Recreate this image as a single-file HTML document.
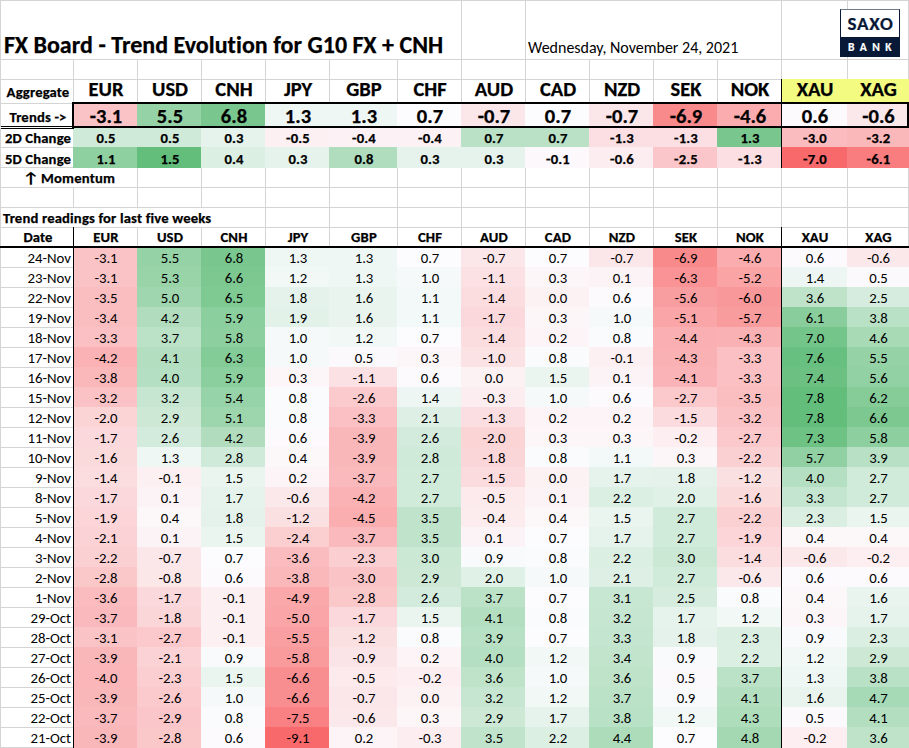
<!DOCTYPE html>
<html lang="en"><head><meta charset="utf-8"><title>FX Board - Trend Evolution for G10 FX + CNH</title>
<style>
html,body{margin:0;padding:0;background:#fff;}
body{width:909px;height:748px;overflow:hidden;position:relative;font-family:Carlito,"Liberation Sans",sans-serif;font-size-adjust:0.4775;color:#000;font-variant-ligatures:none;font-kerning:normal;}
#sheet{position:absolute;left:0;top:0;width:909px;height:748px;overflow:hidden;background:#fff;}
#sheet div{position:absolute;box-sizing:border-box;white-space:nowrap;}
.h{height:1px;background:#D4D4D4;left:0;width:909px;}
.v{width:1px;background:#D4D4D4;}
.c{text-align:center;font-size:14.8px;}
.l{letter-spacing:-0.1px;}
.c.b{font-size:14.67px;letter-spacing:0.15px;}
.b{font-weight:bold;font-size-adjust:0.4849;-webkit-text-stroke:0.25px #000;}
.d{text-align:right;font-size:14.8px;}
.k{background:#000;}

</style></head><body><div id="sheet">
<div class="h" style="top:0px"></div>
<div class="h" style="top:59px"></div>
<div class="h" style="top:79px"></div>
<div class="h" style="top:103px"></div>
<div class="h" style="top:127px"></div>
<div class="h" style="top:147px"></div>
<div class="h" style="top:167px"></div>
<div class="h" style="top:187px"></div>
<div class="h" style="top:207px"></div>
<div class="h" style="top:227px"></div>
<div class="h" style="top:247px"></div>
<div class="h" style="top:267px"></div>
<div class="h" style="top:287px"></div>
<div class="h" style="top:307px"></div>
<div class="h" style="top:327px"></div>
<div class="h" style="top:347px"></div>
<div class="h" style="top:367px"></div>
<div class="h" style="top:387px"></div>
<div class="h" style="top:407px"></div>
<div class="h" style="top:427px"></div>
<div class="h" style="top:447px"></div>
<div class="h" style="top:467px"></div>
<div class="h" style="top:487px"></div>
<div class="h" style="top:507px"></div>
<div class="h" style="top:527px"></div>
<div class="h" style="top:547px"></div>
<div class="h" style="top:567px"></div>
<div class="h" style="top:587px"></div>
<div class="h" style="top:607px"></div>
<div class="h" style="top:627px"></div>
<div class="h" style="top:647px"></div>
<div class="h" style="top:667px"></div>
<div class="h" style="top:687px"></div>
<div class="h" style="top:707px"></div>
<div class="h" style="top:727px"></div>
<div class="h" style="top:747px"></div>
<div class="v" style="left:0;top:0;height:748px"></div>
<div class="v" style="left:73px;top:0;height:748px"></div>
<div class="v" style="left:137px;top:0;height:748px"></div>
<div class="v" style="left:201px;top:0;height:748px"></div>
<div class="v" style="left:265px;top:0;height:748px"></div>
<div class="v" style="left:329px;top:0;height:748px"></div>
<div class="v" style="left:397px;top:0;height:748px"></div>
<div class="v" style="left:461px;top:0;height:748px"></div>
<div class="v" style="left:525px;top:0;height:748px"></div>
<div class="v" style="left:589px;top:0;height:748px"></div>
<div class="v" style="left:653px;top:0;height:748px"></div>
<div class="v" style="left:717px;top:0;height:748px"></div>
<div class="v" style="left:781px;top:0;height:748px"></div>
<div class="v" style="left:847px;top:0;height:748px"></div>
<div class="v" style="left:908px;top:0;height:748px"></div>
<div style="left:1px;top:1px;width:460px;height:58px;background:#fff"></div>
<div style="left:526px;top:1px;width:255px;height:58px;background:#fff"></div>
<div style="left:1px;top:168px;width:136px;height:19px;background:#fff"></div>
<div style="left:1px;top:208px;width:264px;height:19px;background:#fff"></div>
<div style="left:781px;top:79px;width:67px;height:23px;background:#F3FB80"></div>
<div style="left:847px;top:79px;width:62px;height:23px;background:#F3FB80"></div>
<div style="left:73px;top:103px;width:65px;height:25px;background:#FAC3C6"></div>
<div style="left:137px;top:103px;width:65px;height:25px;background:#95D2A6"></div>
<div style="left:201px;top:103px;width:65px;height:25px;background:#79C78E"></div>
<div style="left:265px;top:103px;width:65px;height:25px;background:#EFF7F4"></div>
<div style="left:329px;top:103px;width:69px;height:25px;background:#EFF7F4"></div>
<div style="left:397px;top:103px;width:65px;height:25px;background:#FCFCFF"></div>
<div style="left:461px;top:103px;width:65px;height:25px;background:#FBE7EA"></div>
<div style="left:525px;top:103px;width:65px;height:25px;background:#FCFCFF"></div>
<div style="left:589px;top:103px;width:65px;height:25px;background:#FBE7EA"></div>
<div style="left:653px;top:103px;width:65px;height:25px;background:#F98A8C"></div>
<div style="left:717px;top:103px;width:65px;height:25px;background:#FAACAF"></div>
<div style="left:781px;top:103px;width:67px;height:25px;background:#FCFAFD"></div>
<div style="left:847px;top:103px;width:62px;height:25px;background:#FBE8EB"></div>
<div style="left:73px;top:127px;width:65px;height:21px;background:#D0EAD9"></div>
<div style="left:137px;top:127px;width:65px;height:21px;background:#D0EAD9"></div>
<div style="left:201px;top:127px;width:65px;height:21px;background:#E6F3EC"></div>
<div style="left:265px;top:127px;width:65px;height:21px;background:#FCF0F2"></div>
<div style="left:329px;top:127px;width:69px;height:21px;background:#FCF2F5"></div>
<div style="left:397px;top:127px;width:65px;height:21px;background:#FCF2F5"></div>
<div style="left:461px;top:127px;width:65px;height:21px;background:#BAE1C6"></div>
<div style="left:525px;top:127px;width:65px;height:21px;background:#BAE1C6"></div>
<div style="left:589px;top:127px;width:65px;height:21px;background:#FBDFE2"></div>
<div style="left:653px;top:127px;width:65px;height:21px;background:#FBDFE2"></div>
<div style="left:717px;top:127px;width:65px;height:21px;background:#79C78E"></div>
<div style="left:781px;top:127px;width:67px;height:21px;background:#FABCBE"></div>
<div style="left:847px;top:127px;width:62px;height:21px;background:#FAB8BA"></div>
<div style="left:73px;top:147px;width:65px;height:21px;background:#8FD0A1"></div>
<div style="left:137px;top:147px;width:65px;height:21px;background:#63BE7B"></div>
<div style="left:201px;top:147px;width:65px;height:21px;background:#DBEFE3"></div>
<div style="left:265px;top:147px;width:65px;height:21px;background:#E6F3EC"></div>
<div style="left:329px;top:147px;width:69px;height:21px;background:#B0DDBD"></div>
<div style="left:397px;top:147px;width:65px;height:21px;background:#E6F3EC"></div>
<div style="left:461px;top:147px;width:65px;height:21px;background:#E6F3EC"></div>
<div style="left:525px;top:147px;width:65px;height:21px;background:#FCF8FB"></div>
<div style="left:589px;top:147px;width:65px;height:21px;background:#FCEEF0"></div>
<div style="left:653px;top:147px;width:65px;height:21px;background:#FBC6C9"></div>
<div style="left:717px;top:147px;width:65px;height:21px;background:#FBDFE2"></div>
<div style="left:781px;top:147px;width:67px;height:21px;background:#F8696B"></div>
<div style="left:847px;top:147px;width:62px;height:21px;background:#F97C7E"></div>
<div style="left:73px;top:247px;width:65px;height:21px;background:#FAC3C6"></div>
<div style="left:137px;top:247px;width:65px;height:21px;background:#95D2A6"></div>
<div style="left:201px;top:247px;width:65px;height:21px;background:#79C78E"></div>
<div style="left:265px;top:247px;width:65px;height:21px;background:#EFF7F4"></div>
<div style="left:329px;top:247px;width:69px;height:21px;background:#EFF7F4"></div>
<div style="left:397px;top:247px;width:65px;height:21px;background:#FCFCFF"></div>
<div style="left:461px;top:247px;width:65px;height:21px;background:#FBE7EA"></div>
<div style="left:525px;top:247px;width:65px;height:21px;background:#FCFCFF"></div>
<div style="left:589px;top:247px;width:65px;height:21px;background:#FBE7EA"></div>
<div style="left:653px;top:247px;width:65px;height:21px;background:#F98A8C"></div>
<div style="left:717px;top:247px;width:65px;height:21px;background:#FAACAF"></div>
<div style="left:781px;top:247px;width:67px;height:21px;background:#FCFAFD"></div>
<div style="left:847px;top:247px;width:62px;height:21px;background:#FBE8EB"></div>
<div style="left:73px;top:267px;width:65px;height:21px;background:#FAC3C6"></div>
<div style="left:137px;top:267px;width:65px;height:21px;background:#99D4A9"></div>
<div style="left:201px;top:267px;width:65px;height:21px;background:#7DC891"></div>
<div style="left:265px;top:267px;width:65px;height:21px;background:#F1F8F6"></div>
<div style="left:329px;top:267px;width:69px;height:21px;background:#EFF7F4"></div>
<div style="left:397px;top:267px;width:65px;height:21px;background:#F6F9F9"></div>
<div style="left:461px;top:267px;width:65px;height:21px;background:#FBE1E4"></div>
<div style="left:525px;top:267px;width:65px;height:21px;background:#FCF6F9"></div>
<div style="left:589px;top:267px;width:65px;height:21px;background:#FCF3F6"></div>
<div style="left:653px;top:267px;width:65px;height:21px;background:#F99395"></div>
<div style="left:717px;top:267px;width:65px;height:21px;background:#FAA4A6"></div>
<div style="left:781px;top:267px;width:67px;height:21px;background:#EDF6F2"></div>
<div style="left:847px;top:267px;width:62px;height:21px;background:#FCF9FC"></div>
<div style="left:73px;top:287px;width:65px;height:21px;background:#FABDC0"></div>
<div style="left:137px;top:287px;width:65px;height:21px;background:#9FD6AF"></div>
<div style="left:201px;top:287px;width:65px;height:21px;background:#7FC993"></div>
<div style="left:265px;top:287px;width:65px;height:21px;background:#E4F2EB"></div>
<div style="left:329px;top:287px;width:69px;height:21px;background:#E9F4EE"></div>
<div style="left:397px;top:287px;width:65px;height:21px;background:#F3F9F8"></div>
<div style="left:461px;top:287px;width:65px;height:21px;background:#FBDCDF"></div>
<div style="left:525px;top:287px;width:65px;height:21px;background:#FCF2F4"></div>
<div style="left:589px;top:287px;width:65px;height:21px;background:#FCFAFD"></div>
<div style="left:653px;top:287px;width:65px;height:21px;background:#F99EA0"></div>
<div style="left:717px;top:287px;width:65px;height:21px;background:#F9989A"></div>
<div style="left:781px;top:287px;width:67px;height:21px;background:#BEE3C9"></div>
<div style="left:847px;top:287px;width:62px;height:21px;background:#D5ECDE"></div>
<div style="left:73px;top:307px;width:65px;height:21px;background:#FABEC1"></div>
<div style="left:137px;top:307px;width:65px;height:21px;background:#B1DDBE"></div>
<div style="left:201px;top:307px;width:65px;height:21px;background:#8CCF9E"></div>
<div style="left:265px;top:307px;width:65px;height:21px;background:#E2F2E9"></div>
<div style="left:329px;top:307px;width:69px;height:21px;background:#E9F4EE"></div>
<div style="left:397px;top:307px;width:65px;height:21px;background:#F3F9F8"></div>
<div style="left:461px;top:307px;width:65px;height:21px;background:#FBD8DB"></div>
<div style="left:525px;top:307px;width:65px;height:21px;background:#FCF6F9"></div>
<div style="left:589px;top:307px;width:65px;height:21px;background:#F6F9F9"></div>
<div style="left:653px;top:307px;width:65px;height:21px;background:#FAA5A7"></div>
<div style="left:717px;top:307px;width:65px;height:21px;background:#F99C9E"></div>
<div style="left:781px;top:307px;width:67px;height:21px;background:#88CD9B"></div>
<div style="left:847px;top:307px;width:62px;height:21px;background:#B9E1C5"></div>
<div style="left:73px;top:327px;width:65px;height:21px;background:#FAC0C3"></div>
<div style="left:137px;top:327px;width:65px;height:21px;background:#BBE2C7"></div>
<div style="left:201px;top:327px;width:65px;height:21px;background:#8ECFA0"></div>
<div style="left:265px;top:327px;width:65px;height:21px;background:#F6F9F9"></div>
<div style="left:329px;top:327px;width:69px;height:21px;background:#F1F8F6"></div>
<div style="left:397px;top:327px;width:65px;height:21px;background:#FCFCFF"></div>
<div style="left:461px;top:327px;width:65px;height:21px;background:#FBDCDF"></div>
<div style="left:525px;top:327px;width:65px;height:21px;background:#FCF4F7"></div>
<div style="left:589px;top:327px;width:65px;height:21px;background:#FAFBFD"></div>
<div style="left:653px;top:327px;width:65px;height:21px;background:#FAB0B2"></div>
<div style="left:717px;top:327px;width:65px;height:21px;background:#FAB1B3"></div>
<div style="left:781px;top:327px;width:67px;height:21px;background:#74C58A"></div>
<div style="left:847px;top:327px;width:62px;height:21px;background:#A8DAB6"></div>
<div style="left:73px;top:347px;width:65px;height:21px;background:#FAB2B5"></div>
<div style="left:137px;top:347px;width:65px;height:21px;background:#B3DEC0"></div>
<div style="left:201px;top:347px;width:65px;height:21px;background:#83CB97"></div>
<div style="left:265px;top:347px;width:65px;height:21px;background:#F6F9F9"></div>
<div style="left:329px;top:347px;width:69px;height:21px;background:#FCF9FC"></div>
<div style="left:397px;top:347px;width:65px;height:21px;background:#FCF6F9"></div>
<div style="left:461px;top:347px;width:65px;height:21px;background:#FBE2E5"></div>
<div style="left:525px;top:347px;width:65px;height:21px;background:#FAFBFD"></div>
<div style="left:589px;top:347px;width:65px;height:21px;background:#FCF0F3"></div>
<div style="left:653px;top:347px;width:65px;height:21px;background:#FAB1B3"></div>
<div style="left:717px;top:347px;width:65px;height:21px;background:#FAC0C3"></div>
<div style="left:781px;top:347px;width:67px;height:21px;background:#67C07F"></div>
<div style="left:847px;top:347px;width:62px;height:21px;background:#95D2A6"></div>
<div style="left:73px;top:367px;width:65px;height:21px;background:#FAB8BB"></div>
<div style="left:137px;top:367px;width:65px;height:21px;background:#B5DFC2"></div>
<div style="left:201px;top:367px;width:65px;height:21px;background:#8CCF9E"></div>
<div style="left:265px;top:367px;width:65px;height:21px;background:#FCF6F9"></div>
<div style="left:329px;top:367px;width:69px;height:21px;background:#FBE1E4"></div>
<div style="left:397px;top:367px;width:65px;height:21px;background:#FCFAFD"></div>
<div style="left:461px;top:367px;width:65px;height:21px;background:#FCF2F4"></div>
<div style="left:525px;top:367px;width:65px;height:21px;background:#EBF5F0"></div>
<div style="left:589px;top:367px;width:65px;height:21px;background:#FCF3F6"></div>
<div style="left:653px;top:367px;width:65px;height:21px;background:#FAB4B7"></div>
<div style="left:717px;top:367px;width:65px;height:21px;background:#FAC0C3"></div>
<div style="left:781px;top:367px;width:67px;height:21px;background:#6CC182"></div>
<div style="left:847px;top:367px;width:62px;height:21px;background:#92D1A4"></div>
<div style="left:73px;top:387px;width:65px;height:21px;background:#FAC2C4"></div>
<div style="left:137px;top:387px;width:65px;height:21px;background:#C6E6D1"></div>
<div style="left:201px;top:387px;width:65px;height:21px;background:#97D3A8"></div>
<div style="left:265px;top:387px;width:65px;height:21px;background:#FAFBFD"></div>
<div style="left:329px;top:387px;width:69px;height:21px;background:#FBCACD"></div>
<div style="left:397px;top:387px;width:65px;height:21px;background:#EDF6F2"></div>
<div style="left:461px;top:387px;width:65px;height:21px;background:#FCEDF0"></div>
<div style="left:525px;top:387px;width:65px;height:21px;background:#F6F9F9"></div>
<div style="left:589px;top:387px;width:65px;height:21px;background:#FCFAFD"></div>
<div style="left:653px;top:387px;width:65px;height:21px;background:#FBC9CC"></div>
<div style="left:717px;top:387px;width:65px;height:21px;background:#FABDC0"></div>
<div style="left:781px;top:387px;width:67px;height:21px;background:#63BE7B"></div>
<div style="left:847px;top:387px;width:62px;height:21px;background:#85CC99"></div>
<div style="left:73px;top:407px;width:65px;height:21px;background:#FBD4D6"></div>
<div style="left:137px;top:407px;width:65px;height:21px;background:#CDE9D6"></div>
<div style="left:201px;top:407px;width:65px;height:21px;background:#9DD6AD"></div>
<div style="left:265px;top:407px;width:65px;height:21px;background:#FAFBFD"></div>
<div style="left:329px;top:407px;width:69px;height:21px;background:#FAC0C3"></div>
<div style="left:397px;top:407px;width:65px;height:21px;background:#DEF0E5"></div>
<div style="left:461px;top:407px;width:65px;height:21px;background:#FBDEE1"></div>
<div style="left:525px;top:407px;width:65px;height:21px;background:#FCF4F7"></div>
<div style="left:589px;top:407px;width:65px;height:21px;background:#FCF4F7"></div>
<div style="left:653px;top:407px;width:65px;height:21px;background:#FBDBDE"></div>
<div style="left:717px;top:407px;width:65px;height:21px;background:#FAC2C4"></div>
<div style="left:781px;top:407px;width:67px;height:21px;background:#63BE7B"></div>
<div style="left:847px;top:407px;width:62px;height:21px;background:#7DC891"></div>
<div style="left:73px;top:427px;width:65px;height:21px;background:#FBD8DB"></div>
<div style="left:137px;top:427px;width:65px;height:21px;background:#D3EBDC"></div>
<div style="left:201px;top:427px;width:65px;height:21px;background:#B1DDBE"></div>
<div style="left:265px;top:427px;width:65px;height:21px;background:#FCFAFD"></div>
<div style="left:329px;top:427px;width:69px;height:21px;background:#FAB7BA"></div>
<div style="left:397px;top:427px;width:65px;height:21px;background:#D3EBDC"></div>
<div style="left:461px;top:427px;width:65px;height:21px;background:#FBD4D6"></div>
<div style="left:525px;top:427px;width:65px;height:21px;background:#FCF6F9"></div>
<div style="left:589px;top:427px;width:65px;height:21px;background:#FCF6F9"></div>
<div style="left:653px;top:427px;width:65px;height:21px;background:#FCEEF1"></div>
<div style="left:717px;top:427px;width:65px;height:21px;background:#FBC9CC"></div>
<div style="left:781px;top:427px;width:67px;height:21px;background:#6EC284"></div>
<div style="left:847px;top:427px;width:62px;height:21px;background:#8ECFA0"></div>
<div style="left:73px;top:447px;width:65px;height:21px;background:#FBDADC"></div>
<div style="left:137px;top:447px;width:65px;height:21px;background:#EFF7F4"></div>
<div style="left:201px;top:447px;width:65px;height:21px;background:#CFEAD8"></div>
<div style="left:265px;top:447px;width:65px;height:21px;background:#FCF8FA"></div>
<div style="left:329px;top:447px;width:69px;height:21px;background:#FAB7BA"></div>
<div style="left:397px;top:447px;width:65px;height:21px;background:#CFEAD8"></div>
<div style="left:461px;top:447px;width:65px;height:21px;background:#FBD6D9"></div>
<div style="left:525px;top:447px;width:65px;height:21px;background:#FAFBFD"></div>
<div style="left:589px;top:447px;width:65px;height:21px;background:#F3F9F8"></div>
<div style="left:653px;top:447px;width:65px;height:21px;background:#FCF6F9"></div>
<div style="left:717px;top:447px;width:65px;height:21px;background:#FBD0D3"></div>
<div style="left:781px;top:447px;width:67px;height:21px;background:#90D0A2"></div>
<div style="left:847px;top:447px;width:62px;height:21px;background:#B7E0C4"></div>
<div style="left:73px;top:467px;width:65px;height:21px;background:#FBDCDF"></div>
<div style="left:137px;top:467px;width:65px;height:21px;background:#FCF0F3"></div>
<div style="left:201px;top:467px;width:65px;height:21px;background:#EBF5F0"></div>
<div style="left:265px;top:467px;width:65px;height:21px;background:#FCF4F7"></div>
<div style="left:329px;top:467px;width:69px;height:21px;background:#FABABD"></div>
<div style="left:397px;top:467px;width:65px;height:21px;background:#D1EBDA"></div>
<div style="left:461px;top:467px;width:65px;height:21px;background:#FBDBDE"></div>
<div style="left:525px;top:467px;width:65px;height:21px;background:#FCF2F4"></div>
<div style="left:589px;top:467px;width:65px;height:21px;background:#E6F3EC"></div>
<div style="left:653px;top:467px;width:65px;height:21px;background:#E4F2EB"></div>
<div style="left:717px;top:467px;width:65px;height:21px;background:#FBE0E2"></div>
<div style="left:781px;top:467px;width:67px;height:21px;background:#B5DFC2"></div>
<div style="left:847px;top:467px;width:62px;height:21px;background:#D1EBDA"></div>
<div style="left:73px;top:487px;width:65px;height:21px;background:#FBD8DB"></div>
<div style="left:137px;top:487px;width:65px;height:21px;background:#FCF3F6"></div>
<div style="left:201px;top:487px;width:65px;height:21px;background:#E6F3EC"></div>
<div style="left:265px;top:487px;width:65px;height:21px;background:#FBE8EB"></div>
<div style="left:329px;top:487px;width:69px;height:21px;background:#FAB2B5"></div>
<div style="left:397px;top:487px;width:65px;height:21px;background:#D1EBDA"></div>
<div style="left:461px;top:487px;width:65px;height:21px;background:#FCEAED"></div>
<div style="left:525px;top:487px;width:65px;height:21px;background:#FCF3F6"></div>
<div style="left:589px;top:487px;width:65px;height:21px;background:#DCEFE3"></div>
<div style="left:653px;top:487px;width:65px;height:21px;background:#E0F1E7"></div>
<div style="left:717px;top:487px;width:65px;height:21px;background:#FBDADC"></div>
<div style="left:781px;top:487px;width:67px;height:21px;background:#C4E5CF"></div>
<div style="left:847px;top:487px;width:62px;height:21px;background:#D1EBDA"></div>
<div style="left:73px;top:507px;width:65px;height:21px;background:#FBD5D8"></div>
<div style="left:137px;top:507px;width:65px;height:21px;background:#FCF8FA"></div>
<div style="left:201px;top:507px;width:65px;height:21px;background:#E4F2EB"></div>
<div style="left:265px;top:507px;width:65px;height:21px;background:#FBE0E2"></div>
<div style="left:329px;top:507px;width:69px;height:21px;background:#FAAEB0"></div>
<div style="left:397px;top:507px;width:65px;height:21px;background:#C0E4CB"></div>
<div style="left:461px;top:507px;width:65px;height:21px;background:#FCECEE"></div>
<div style="left:525px;top:507px;width:65px;height:21px;background:#FCF8FA"></div>
<div style="left:589px;top:507px;width:65px;height:21px;background:#EBF5F0"></div>
<div style="left:653px;top:507px;width:65px;height:21px;background:#D1EBDA"></div>
<div style="left:717px;top:507px;width:65px;height:21px;background:#FBD0D3"></div>
<div style="left:781px;top:507px;width:67px;height:21px;background:#DAEEE1"></div>
<div style="left:847px;top:507px;width:62px;height:21px;background:#EBF5F0"></div>
<div style="left:73px;top:527px;width:65px;height:21px;background:#FBD2D5"></div>
<div style="left:137px;top:527px;width:65px;height:21px;background:#FCF3F6"></div>
<div style="left:201px;top:527px;width:65px;height:21px;background:#EBF5F0"></div>
<div style="left:265px;top:527px;width:65px;height:21px;background:#FBCED0"></div>
<div style="left:329px;top:527px;width:69px;height:21px;background:#FABABD"></div>
<div style="left:397px;top:527px;width:65px;height:21px;background:#C0E4CB"></div>
<div style="left:461px;top:527px;width:65px;height:21px;background:#FCF3F6"></div>
<div style="left:525px;top:527px;width:65px;height:21px;background:#FCFCFF"></div>
<div style="left:589px;top:527px;width:65px;height:21px;background:#E6F3EC"></div>
<div style="left:653px;top:527px;width:65px;height:21px;background:#D1EBDA"></div>
<div style="left:717px;top:527px;width:65px;height:21px;background:#FBD5D8"></div>
<div style="left:781px;top:527px;width:67px;height:21px;background:#FCF8FA"></div>
<div style="left:847px;top:527px;width:62px;height:21px;background:#FCF8FA"></div>
<div style="left:73px;top:547px;width:65px;height:21px;background:#FBD0D3"></div>
<div style="left:137px;top:547px;width:65px;height:21px;background:#FBE7EA"></div>
<div style="left:201px;top:547px;width:65px;height:21px;background:#FCFCFF"></div>
<div style="left:265px;top:547px;width:65px;height:21px;background:#FABCBE"></div>
<div style="left:329px;top:547px;width:69px;height:21px;background:#FBCFD2"></div>
<div style="left:397px;top:547px;width:65px;height:21px;background:#CAE8D4"></div>
<div style="left:461px;top:547px;width:65px;height:21px;background:#F8FAFB"></div>
<div style="left:525px;top:547px;width:65px;height:21px;background:#FAFBFD"></div>
<div style="left:589px;top:547px;width:65px;height:21px;background:#DCEFE3"></div>
<div style="left:653px;top:547px;width:65px;height:21px;background:#CAE8D4"></div>
<div style="left:717px;top:547px;width:65px;height:21px;background:#FBDCDF"></div>
<div style="left:781px;top:547px;width:67px;height:21px;background:#FBE8EB"></div>
<div style="left:847px;top:547px;width:62px;height:21px;background:#FCEEF1"></div>
<div style="left:73px;top:567px;width:65px;height:21px;background:#FBC8CA"></div>
<div style="left:137px;top:567px;width:65px;height:21px;background:#FBE6E8"></div>
<div style="left:201px;top:567px;width:65px;height:21px;background:#FCFAFD"></div>
<div style="left:265px;top:567px;width:65px;height:21px;background:#FAB8BB"></div>
<div style="left:329px;top:567px;width:69px;height:21px;background:#FAC4C7"></div>
<div style="left:397px;top:567px;width:65px;height:21px;background:#CDE9D6"></div>
<div style="left:461px;top:567px;width:65px;height:21px;background:#E0F1E7"></div>
<div style="left:525px;top:567px;width:65px;height:21px;background:#F6F9F9"></div>
<div style="left:589px;top:567px;width:65px;height:21px;background:#DEF0E5"></div>
<div style="left:653px;top:567px;width:65px;height:21px;background:#D1EBDA"></div>
<div style="left:717px;top:567px;width:65px;height:21px;background:#FBE8EB"></div>
<div style="left:781px;top:567px;width:67px;height:21px;background:#FCFAFD"></div>
<div style="left:847px;top:567px;width:62px;height:21px;background:#FCFAFD"></div>
<div style="left:73px;top:587px;width:65px;height:21px;background:#FABCBE"></div>
<div style="left:137px;top:587px;width:65px;height:21px;background:#FBD8DB"></div>
<div style="left:201px;top:587px;width:65px;height:21px;background:#FCF0F3"></div>
<div style="left:265px;top:587px;width:65px;height:21px;background:#FAA8AA"></div>
<div style="left:329px;top:587px;width:69px;height:21px;background:#FBC8CA"></div>
<div style="left:397px;top:587px;width:65px;height:21px;background:#D3EBDC"></div>
<div style="left:461px;top:587px;width:65px;height:21px;background:#BBE2C7"></div>
<div style="left:525px;top:587px;width:65px;height:21px;background:#FCFCFF"></div>
<div style="left:589px;top:587px;width:65px;height:21px;background:#C8E7D2"></div>
<div style="left:653px;top:587px;width:65px;height:21px;background:#D5ECDE"></div>
<div style="left:717px;top:587px;width:65px;height:21px;background:#FAFBFD"></div>
<div style="left:781px;top:587px;width:67px;height:21px;background:#FCF8FA"></div>
<div style="left:847px;top:587px;width:62px;height:21px;background:#E9F4EE"></div>
<div style="left:73px;top:607px;width:65px;height:21px;background:#FABABD"></div>
<div style="left:137px;top:607px;width:65px;height:21px;background:#FBD6D9"></div>
<div style="left:201px;top:607px;width:65px;height:21px;background:#FCF0F3"></div>
<div style="left:265px;top:607px;width:65px;height:21px;background:#FAA6A9"></div>
<div style="left:329px;top:607px;width:69px;height:21px;background:#FBD8DB"></div>
<div style="left:397px;top:607px;width:65px;height:21px;background:#EBF5F0"></div>
<div style="left:461px;top:607px;width:65px;height:21px;background:#B3DEC0"></div>
<div style="left:525px;top:607px;width:65px;height:21px;background:#FAFBFD"></div>
<div style="left:589px;top:607px;width:65px;height:21px;background:#C6E6D1"></div>
<div style="left:653px;top:607px;width:65px;height:21px;background:#E6F3EC"></div>
<div style="left:717px;top:607px;width:65px;height:21px;background:#F1F8F6"></div>
<div style="left:781px;top:607px;width:67px;height:21px;background:#FCF6F9"></div>
<div style="left:847px;top:607px;width:62px;height:21px;background:#E6F3EC"></div>
<div style="left:73px;top:627px;width:65px;height:21px;background:#FAC3C6"></div>
<div style="left:137px;top:627px;width:65px;height:21px;background:#FBC9CC"></div>
<div style="left:201px;top:627px;width:65px;height:21px;background:#FCF0F3"></div>
<div style="left:265px;top:627px;width:65px;height:21px;background:#F99FA1"></div>
<div style="left:329px;top:627px;width:69px;height:21px;background:#FBE0E2"></div>
<div style="left:397px;top:627px;width:65px;height:21px;background:#FAFBFD"></div>
<div style="left:461px;top:627px;width:65px;height:21px;background:#B7E0C4"></div>
<div style="left:525px;top:627px;width:65px;height:21px;background:#FCFCFF"></div>
<div style="left:589px;top:627px;width:65px;height:21px;background:#C4E5CF"></div>
<div style="left:653px;top:627px;width:65px;height:21px;background:#E4F2EB"></div>
<div style="left:717px;top:627px;width:65px;height:21px;background:#DAEEE1"></div>
<div style="left:781px;top:627px;width:67px;height:21px;background:#F8FAFB"></div>
<div style="left:847px;top:627px;width:62px;height:21px;background:#DAEEE1"></div>
<div style="left:73px;top:647px;width:65px;height:21px;background:#FAB7BA"></div>
<div style="left:137px;top:647px;width:65px;height:21px;background:#FBD2D5"></div>
<div style="left:201px;top:647px;width:65px;height:21px;background:#F8FAFB"></div>
<div style="left:265px;top:647px;width:65px;height:21px;background:#F99A9D"></div>
<div style="left:329px;top:647px;width:69px;height:21px;background:#FBE4E7"></div>
<div style="left:397px;top:647px;width:65px;height:21px;background:#FCF4F7"></div>
<div style="left:461px;top:647px;width:65px;height:21px;background:#B5DFC2"></div>
<div style="left:525px;top:647px;width:65px;height:21px;background:#F1F8F6"></div>
<div style="left:589px;top:647px;width:65px;height:21px;background:#C2E4CD"></div>
<div style="left:653px;top:647px;width:65px;height:21px;background:#F8FAFB"></div>
<div style="left:717px;top:647px;width:65px;height:21px;background:#DCEFE3"></div>
<div style="left:781px;top:647px;width:67px;height:21px;background:#F1F8F6"></div>
<div style="left:847px;top:647px;width:62px;height:21px;background:#CDE9D6"></div>
<div style="left:73px;top:667px;width:65px;height:21px;background:#FAB6B8"></div>
<div style="left:137px;top:667px;width:65px;height:21px;background:#FBCFD2"></div>
<div style="left:201px;top:667px;width:65px;height:21px;background:#EBF5F0"></div>
<div style="left:265px;top:667px;width:65px;height:21px;background:#F98E91"></div>
<div style="left:329px;top:667px;width:69px;height:21px;background:#FCEAED"></div>
<div style="left:397px;top:667px;width:65px;height:21px;background:#FCEEF1"></div>
<div style="left:461px;top:667px;width:65px;height:21px;background:#BEE3C9"></div>
<div style="left:525px;top:667px;width:65px;height:21px;background:#F6F9F9"></div>
<div style="left:589px;top:667px;width:65px;height:21px;background:#BEE3C9"></div>
<div style="left:653px;top:667px;width:65px;height:21px;background:#FCF9FC"></div>
<div style="left:717px;top:667px;width:65px;height:21px;background:#BBE2C7"></div>
<div style="left:781px;top:667px;width:67px;height:21px;background:#EFF7F4"></div>
<div style="left:847px;top:667px;width:62px;height:21px;background:#B9E1C5"></div>
<div style="left:73px;top:687px;width:65px;height:21px;background:#FAB7BA"></div>
<div style="left:137px;top:687px;width:65px;height:21px;background:#FBCACD"></div>
<div style="left:201px;top:687px;width:65px;height:21px;background:#F6F9F9"></div>
<div style="left:265px;top:687px;width:65px;height:21px;background:#F98E91"></div>
<div style="left:329px;top:687px;width:69px;height:21px;background:#FBE7EA"></div>
<div style="left:397px;top:687px;width:65px;height:21px;background:#FCF2F4"></div>
<div style="left:461px;top:687px;width:65px;height:21px;background:#C6E6D1"></div>
<div style="left:525px;top:687px;width:65px;height:21px;background:#F1F8F6"></div>
<div style="left:589px;top:687px;width:65px;height:21px;background:#BBE2C7"></div>
<div style="left:653px;top:687px;width:65px;height:21px;background:#F8FAFB"></div>
<div style="left:717px;top:687px;width:65px;height:21px;background:#B3DEC0"></div>
<div style="left:781px;top:687px;width:67px;height:21px;background:#E9F4EE"></div>
<div style="left:847px;top:687px;width:62px;height:21px;background:#A6D9B5"></div>
<div style="left:73px;top:707px;width:65px;height:21px;background:#FABABD"></div>
<div style="left:137px;top:707px;width:65px;height:21px;background:#FBC6C9"></div>
<div style="left:201px;top:707px;width:65px;height:21px;background:#FAFBFD"></div>
<div style="left:265px;top:707px;width:65px;height:21px;background:#F98183"></div>
<div style="left:329px;top:707px;width:69px;height:21px;background:#FBE8EB"></div>
<div style="left:397px;top:707px;width:65px;height:21px;background:#FCF6F9"></div>
<div style="left:461px;top:707px;width:65px;height:21px;background:#CDE9D6"></div>
<div style="left:525px;top:707px;width:65px;height:21px;background:#E6F3EC"></div>
<div style="left:589px;top:707px;width:65px;height:21px;background:#B9E1C5"></div>
<div style="left:653px;top:707px;width:65px;height:21px;background:#F1F8F6"></div>
<div style="left:717px;top:707px;width:65px;height:21px;background:#AEDDBC"></div>
<div style="left:781px;top:707px;width:67px;height:21px;background:#FCF9FC"></div>
<div style="left:847px;top:707px;width:62px;height:21px;background:#B3DEC0"></div>
<div style="left:73px;top:727px;width:65px;height:21px;background:#FAB7BA"></div>
<div style="left:137px;top:727px;width:65px;height:21px;background:#FBC8CA"></div>
<div style="left:201px;top:727px;width:65px;height:21px;background:#FCFAFD"></div>
<div style="left:265px;top:727px;width:65px;height:21px;background:#F8696B"></div>
<div style="left:329px;top:727px;width:69px;height:21px;background:#FCF4F7"></div>
<div style="left:397px;top:727px;width:65px;height:21px;background:#FCEDF0"></div>
<div style="left:461px;top:727px;width:65px;height:21px;background:#C0E4CB"></div>
<div style="left:525px;top:727px;width:65px;height:21px;background:#DCEFE3"></div>
<div style="left:589px;top:727px;width:65px;height:21px;background:#ACDCBA"></div>
<div style="left:653px;top:727px;width:65px;height:21px;background:#FCFCFF"></div>
<div style="left:717px;top:727px;width:65px;height:21px;background:#A4D8B3"></div>
<div style="left:781px;top:727px;width:67px;height:21px;background:#FCEEF1"></div>
<div style="left:847px;top:727px;width:62px;height:21px;background:#BEE3C9"></div>
<div class="b" style="left:4px;top:32px;width:466px;height:26px;line-height:26px;font-size:24px;letter-spacing:0.03px;">FX Board - Trend Evolution for G10 FX + CNH</div>
<div class="" style="left:528px;top:37px;width:253px;height:21px;line-height:21px;font-size:16px;">Wednesday, November 24, 2021</div>
<div class="c b l" style="left:2px;top:82px;width:72px;height:21px;line-height:21px;">Aggregate</div>
<div class="c b l" style="left:2px;top:106px;width:72px;height:23px;line-height:23px;">Trends -&gt;</div>
<div class="c b l" style="left:2px;top:129px;width:72px;height:19px;line-height:19px;">2D Change</div>
<div class="c b l" style="left:2px;top:149px;width:72px;height:20px;line-height:20px;">5D Change</div>
<div style="left:21px;top:168px;width:20px;height:20px;line-height:20px;text-align:center;font-size:16px;font-weight:bold;font-size-adjust:0.4849;transform:scale(1.19,0.95);transform-origin:50% 70%;">&#8593;</div>
<div class="b" style="left:41px;top:169px;width:96px;height:19px;line-height:19px;font-size:14.67px;letter-spacing:0.2px;">Momentum</div>
<div class="b" style="left:3px;top:208px;width:297px;height:20px;line-height:20px;font-size:14.67px;letter-spacing:0.16px;">Trend readings for last five weeks</div>
<div class="c b l" style="left:2px;top:227px;width:72px;height:20px;line-height:20px;">Date</div>
<div class="c b" style="left:74px;top:78px;width:64px;height:23px;line-height:23px;font-size:20.5px;letter-spacing:0;">EUR</div>
<div class="c b" style="left:74px;top:105px;width:64px;height:23px;line-height:23px;font-size:20.5px;letter-spacing:0;">-3.1</div>
<div class="c b" style="left:74px;top:129px;width:64px;height:19px;line-height:19px;">0.5</div>
<div class="c b" style="left:74px;top:149px;width:64px;height:20px;line-height:20px;">1.1</div>
<div class="c b" style="left:74px;top:227px;width:64px;height:20px;line-height:20px;">EUR</div>
<div class="c b" style="left:138px;top:78px;width:64px;height:23px;line-height:23px;font-size:20.5px;letter-spacing:0;">USD</div>
<div class="c b" style="left:138px;top:105px;width:64px;height:23px;line-height:23px;font-size:20.5px;letter-spacing:0;">5.5</div>
<div class="c b" style="left:138px;top:129px;width:64px;height:19px;line-height:19px;">0.5</div>
<div class="c b" style="left:138px;top:149px;width:64px;height:20px;line-height:20px;">1.5</div>
<div class="c b" style="left:138px;top:227px;width:64px;height:20px;line-height:20px;">USD</div>
<div class="c b" style="left:202px;top:78px;width:64px;height:23px;line-height:23px;font-size:20.5px;letter-spacing:0;">CNH</div>
<div class="c b" style="left:202px;top:105px;width:64px;height:23px;line-height:23px;font-size:20.5px;letter-spacing:0;">6.8</div>
<div class="c b" style="left:202px;top:129px;width:64px;height:19px;line-height:19px;">0.3</div>
<div class="c b" style="left:202px;top:149px;width:64px;height:20px;line-height:20px;">0.4</div>
<div class="c b" style="left:202px;top:227px;width:64px;height:20px;line-height:20px;">CNH</div>
<div class="c b" style="left:266px;top:78px;width:64px;height:23px;line-height:23px;font-size:20.5px;letter-spacing:0;">JPY</div>
<div class="c b" style="left:266px;top:105px;width:64px;height:23px;line-height:23px;font-size:20.5px;letter-spacing:0;">1.3</div>
<div class="c b" style="left:266px;top:129px;width:64px;height:19px;line-height:19px;">-0.5</div>
<div class="c b" style="left:266px;top:149px;width:64px;height:20px;line-height:20px;">0.3</div>
<div class="c b" style="left:266px;top:227px;width:64px;height:20px;line-height:20px;">JPY</div>
<div class="c b" style="left:330px;top:78px;width:68px;height:23px;line-height:23px;font-size:20.5px;letter-spacing:0;">GBP</div>
<div class="c b" style="left:330px;top:105px;width:68px;height:23px;line-height:23px;font-size:20.5px;letter-spacing:0;">1.3</div>
<div class="c b" style="left:330px;top:129px;width:68px;height:19px;line-height:19px;">-0.4</div>
<div class="c b" style="left:330px;top:149px;width:68px;height:20px;line-height:20px;">0.8</div>
<div class="c b" style="left:330px;top:227px;width:68px;height:20px;line-height:20px;">GBP</div>
<div class="c b" style="left:398px;top:78px;width:64px;height:23px;line-height:23px;font-size:20.5px;letter-spacing:0;">CHF</div>
<div class="c b" style="left:398px;top:105px;width:64px;height:23px;line-height:23px;font-size:20.5px;letter-spacing:0;">0.7</div>
<div class="c b" style="left:398px;top:129px;width:64px;height:19px;line-height:19px;">-0.4</div>
<div class="c b" style="left:398px;top:149px;width:64px;height:20px;line-height:20px;">0.3</div>
<div class="c b" style="left:398px;top:227px;width:64px;height:20px;line-height:20px;">CHF</div>
<div class="c b" style="left:462px;top:78px;width:64px;height:23px;line-height:23px;font-size:20.5px;letter-spacing:0;">AUD</div>
<div class="c b" style="left:462px;top:105px;width:64px;height:23px;line-height:23px;font-size:20.5px;letter-spacing:0;">-0.7</div>
<div class="c b" style="left:462px;top:129px;width:64px;height:19px;line-height:19px;">0.7</div>
<div class="c b" style="left:462px;top:149px;width:64px;height:20px;line-height:20px;">0.3</div>
<div class="c b" style="left:462px;top:227px;width:64px;height:20px;line-height:20px;">AUD</div>
<div class="c b" style="left:526px;top:78px;width:64px;height:23px;line-height:23px;font-size:20.5px;letter-spacing:0;">CAD</div>
<div class="c b" style="left:526px;top:105px;width:64px;height:23px;line-height:23px;font-size:20.5px;letter-spacing:0;">0.7</div>
<div class="c b" style="left:526px;top:129px;width:64px;height:19px;line-height:19px;">0.7</div>
<div class="c b" style="left:526px;top:149px;width:64px;height:20px;line-height:20px;">-0.1</div>
<div class="c b" style="left:526px;top:227px;width:64px;height:20px;line-height:20px;">CAD</div>
<div class="c b" style="left:590px;top:78px;width:64px;height:23px;line-height:23px;font-size:20.5px;letter-spacing:0;">NZD</div>
<div class="c b" style="left:590px;top:105px;width:64px;height:23px;line-height:23px;font-size:20.5px;letter-spacing:0;">-0.7</div>
<div class="c b" style="left:590px;top:129px;width:64px;height:19px;line-height:19px;">-1.3</div>
<div class="c b" style="left:590px;top:149px;width:64px;height:20px;line-height:20px;">-0.6</div>
<div class="c b" style="left:590px;top:227px;width:64px;height:20px;line-height:20px;">NZD</div>
<div class="c b" style="left:654px;top:78px;width:64px;height:23px;line-height:23px;font-size:20.5px;letter-spacing:0;">SEK</div>
<div class="c b" style="left:654px;top:105px;width:64px;height:23px;line-height:23px;font-size:20.5px;letter-spacing:0;">-6.9</div>
<div class="c b" style="left:654px;top:129px;width:64px;height:19px;line-height:19px;">-1.3</div>
<div class="c b" style="left:654px;top:149px;width:64px;height:20px;line-height:20px;">-2.5</div>
<div class="c b" style="left:654px;top:227px;width:64px;height:20px;line-height:20px;">SEK</div>
<div class="c b" style="left:718px;top:78px;width:64px;height:23px;line-height:23px;font-size:20.5px;letter-spacing:0;">NOK</div>
<div class="c b" style="left:718px;top:105px;width:64px;height:23px;line-height:23px;font-size:20.5px;letter-spacing:0;">-4.6</div>
<div class="c b" style="left:718px;top:129px;width:64px;height:19px;line-height:19px;">1.3</div>
<div class="c b" style="left:718px;top:149px;width:64px;height:20px;line-height:20px;">-1.3</div>
<div class="c b" style="left:718px;top:227px;width:64px;height:20px;line-height:20px;">NOK</div>
<div class="c b" style="left:782px;top:78px;width:66px;height:23px;line-height:23px;font-size:20.5px;letter-spacing:0;">XAU</div>
<div class="c b" style="left:782px;top:105px;width:66px;height:23px;line-height:23px;font-size:20.5px;letter-spacing:0;">0.6</div>
<div class="c b" style="left:782px;top:129px;width:66px;height:19px;line-height:19px;">-3.0</div>
<div class="c b" style="left:782px;top:149px;width:66px;height:20px;line-height:20px;">-7.0</div>
<div class="c b" style="left:782px;top:227px;width:66px;height:20px;line-height:20px;">XAU</div>
<div class="c b" style="left:848px;top:78px;width:61px;height:23px;line-height:23px;font-size:20.5px;letter-spacing:0;">XAG</div>
<div class="c b" style="left:848px;top:105px;width:61px;height:23px;line-height:23px;font-size:20.5px;letter-spacing:0;">-0.6</div>
<div class="c b" style="left:848px;top:129px;width:61px;height:19px;line-height:19px;">-3.2</div>
<div class="c b" style="left:848px;top:149px;width:61px;height:20px;line-height:20px;">-6.1</div>
<div class="c b" style="left:848px;top:227px;width:61px;height:20px;line-height:20px;">XAG</div>
<div class="d" style="left:0px;top:248px;width:71px;height:20px;line-height:20px;">24-Nov</div>
<div class="c" style="left:74px;top:248px;width:64px;height:20px;line-height:20px;">-3.1</div>
<div class="c" style="left:138px;top:248px;width:64px;height:20px;line-height:20px;">5.5</div>
<div class="c" style="left:202px;top:248px;width:64px;height:20px;line-height:20px;">6.8</div>
<div class="c" style="left:266px;top:248px;width:64px;height:20px;line-height:20px;">1.3</div>
<div class="c" style="left:330px;top:248px;width:68px;height:20px;line-height:20px;">1.3</div>
<div class="c" style="left:398px;top:248px;width:64px;height:20px;line-height:20px;">0.7</div>
<div class="c" style="left:462px;top:248px;width:64px;height:20px;line-height:20px;">-0.7</div>
<div class="c" style="left:526px;top:248px;width:64px;height:20px;line-height:20px;">0.7</div>
<div class="c" style="left:590px;top:248px;width:64px;height:20px;line-height:20px;">-0.7</div>
<div class="c" style="left:654px;top:248px;width:64px;height:20px;line-height:20px;">-6.9</div>
<div class="c" style="left:718px;top:248px;width:64px;height:20px;line-height:20px;">-4.6</div>
<div class="c" style="left:782px;top:248px;width:66px;height:20px;line-height:20px;">0.6</div>
<div class="c" style="left:848px;top:248px;width:61px;height:20px;line-height:20px;">-0.6</div>
<div class="d" style="left:0px;top:268px;width:71px;height:20px;line-height:20px;">23-Nov</div>
<div class="c" style="left:74px;top:268px;width:64px;height:20px;line-height:20px;">-3.1</div>
<div class="c" style="left:138px;top:268px;width:64px;height:20px;line-height:20px;">5.3</div>
<div class="c" style="left:202px;top:268px;width:64px;height:20px;line-height:20px;">6.6</div>
<div class="c" style="left:266px;top:268px;width:64px;height:20px;line-height:20px;">1.2</div>
<div class="c" style="left:330px;top:268px;width:68px;height:20px;line-height:20px;">1.3</div>
<div class="c" style="left:398px;top:268px;width:64px;height:20px;line-height:20px;">1.0</div>
<div class="c" style="left:462px;top:268px;width:64px;height:20px;line-height:20px;">-1.1</div>
<div class="c" style="left:526px;top:268px;width:64px;height:20px;line-height:20px;">0.3</div>
<div class="c" style="left:590px;top:268px;width:64px;height:20px;line-height:20px;">0.1</div>
<div class="c" style="left:654px;top:268px;width:64px;height:20px;line-height:20px;">-6.3</div>
<div class="c" style="left:718px;top:268px;width:64px;height:20px;line-height:20px;">-5.2</div>
<div class="c" style="left:782px;top:268px;width:66px;height:20px;line-height:20px;">1.4</div>
<div class="c" style="left:848px;top:268px;width:61px;height:20px;line-height:20px;">0.5</div>
<div class="d" style="left:0px;top:288px;width:71px;height:20px;line-height:20px;">22-Nov</div>
<div class="c" style="left:74px;top:288px;width:64px;height:20px;line-height:20px;">-3.5</div>
<div class="c" style="left:138px;top:288px;width:64px;height:20px;line-height:20px;">5.0</div>
<div class="c" style="left:202px;top:288px;width:64px;height:20px;line-height:20px;">6.5</div>
<div class="c" style="left:266px;top:288px;width:64px;height:20px;line-height:20px;">1.8</div>
<div class="c" style="left:330px;top:288px;width:68px;height:20px;line-height:20px;">1.6</div>
<div class="c" style="left:398px;top:288px;width:64px;height:20px;line-height:20px;">1.1</div>
<div class="c" style="left:462px;top:288px;width:64px;height:20px;line-height:20px;">-1.4</div>
<div class="c" style="left:526px;top:288px;width:64px;height:20px;line-height:20px;">0.0</div>
<div class="c" style="left:590px;top:288px;width:64px;height:20px;line-height:20px;">0.6</div>
<div class="c" style="left:654px;top:288px;width:64px;height:20px;line-height:20px;">-5.6</div>
<div class="c" style="left:718px;top:288px;width:64px;height:20px;line-height:20px;">-6.0</div>
<div class="c" style="left:782px;top:288px;width:66px;height:20px;line-height:20px;">3.6</div>
<div class="c" style="left:848px;top:288px;width:61px;height:20px;line-height:20px;">2.5</div>
<div class="d" style="left:0px;top:308px;width:71px;height:20px;line-height:20px;">19-Nov</div>
<div class="c" style="left:74px;top:308px;width:64px;height:20px;line-height:20px;">-3.4</div>
<div class="c" style="left:138px;top:308px;width:64px;height:20px;line-height:20px;">4.2</div>
<div class="c" style="left:202px;top:308px;width:64px;height:20px;line-height:20px;">5.9</div>
<div class="c" style="left:266px;top:308px;width:64px;height:20px;line-height:20px;">1.9</div>
<div class="c" style="left:330px;top:308px;width:68px;height:20px;line-height:20px;">1.6</div>
<div class="c" style="left:398px;top:308px;width:64px;height:20px;line-height:20px;">1.1</div>
<div class="c" style="left:462px;top:308px;width:64px;height:20px;line-height:20px;">-1.7</div>
<div class="c" style="left:526px;top:308px;width:64px;height:20px;line-height:20px;">0.3</div>
<div class="c" style="left:590px;top:308px;width:64px;height:20px;line-height:20px;">1.0</div>
<div class="c" style="left:654px;top:308px;width:64px;height:20px;line-height:20px;">-5.1</div>
<div class="c" style="left:718px;top:308px;width:64px;height:20px;line-height:20px;">-5.7</div>
<div class="c" style="left:782px;top:308px;width:66px;height:20px;line-height:20px;">6.1</div>
<div class="c" style="left:848px;top:308px;width:61px;height:20px;line-height:20px;">3.8</div>
<div class="d" style="left:0px;top:328px;width:71px;height:20px;line-height:20px;">18-Nov</div>
<div class="c" style="left:74px;top:328px;width:64px;height:20px;line-height:20px;">-3.3</div>
<div class="c" style="left:138px;top:328px;width:64px;height:20px;line-height:20px;">3.7</div>
<div class="c" style="left:202px;top:328px;width:64px;height:20px;line-height:20px;">5.8</div>
<div class="c" style="left:266px;top:328px;width:64px;height:20px;line-height:20px;">1.0</div>
<div class="c" style="left:330px;top:328px;width:68px;height:20px;line-height:20px;">1.2</div>
<div class="c" style="left:398px;top:328px;width:64px;height:20px;line-height:20px;">0.7</div>
<div class="c" style="left:462px;top:328px;width:64px;height:20px;line-height:20px;">-1.4</div>
<div class="c" style="left:526px;top:328px;width:64px;height:20px;line-height:20px;">0.2</div>
<div class="c" style="left:590px;top:328px;width:64px;height:20px;line-height:20px;">0.8</div>
<div class="c" style="left:654px;top:328px;width:64px;height:20px;line-height:20px;">-4.4</div>
<div class="c" style="left:718px;top:328px;width:64px;height:20px;line-height:20px;">-4.3</div>
<div class="c" style="left:782px;top:328px;width:66px;height:20px;line-height:20px;">7.0</div>
<div class="c" style="left:848px;top:328px;width:61px;height:20px;line-height:20px;">4.6</div>
<div class="d" style="left:0px;top:348px;width:71px;height:20px;line-height:20px;">17-Nov</div>
<div class="c" style="left:74px;top:348px;width:64px;height:20px;line-height:20px;">-4.2</div>
<div class="c" style="left:138px;top:348px;width:64px;height:20px;line-height:20px;">4.1</div>
<div class="c" style="left:202px;top:348px;width:64px;height:20px;line-height:20px;">6.3</div>
<div class="c" style="left:266px;top:348px;width:64px;height:20px;line-height:20px;">1.0</div>
<div class="c" style="left:330px;top:348px;width:68px;height:20px;line-height:20px;">0.5</div>
<div class="c" style="left:398px;top:348px;width:64px;height:20px;line-height:20px;">0.3</div>
<div class="c" style="left:462px;top:348px;width:64px;height:20px;line-height:20px;">-1.0</div>
<div class="c" style="left:526px;top:348px;width:64px;height:20px;line-height:20px;">0.8</div>
<div class="c" style="left:590px;top:348px;width:64px;height:20px;line-height:20px;">-0.1</div>
<div class="c" style="left:654px;top:348px;width:64px;height:20px;line-height:20px;">-4.3</div>
<div class="c" style="left:718px;top:348px;width:64px;height:20px;line-height:20px;">-3.3</div>
<div class="c" style="left:782px;top:348px;width:66px;height:20px;line-height:20px;">7.6</div>
<div class="c" style="left:848px;top:348px;width:61px;height:20px;line-height:20px;">5.5</div>
<div class="d" style="left:0px;top:368px;width:71px;height:20px;line-height:20px;">16-Nov</div>
<div class="c" style="left:74px;top:368px;width:64px;height:20px;line-height:20px;">-3.8</div>
<div class="c" style="left:138px;top:368px;width:64px;height:20px;line-height:20px;">4.0</div>
<div class="c" style="left:202px;top:368px;width:64px;height:20px;line-height:20px;">5.9</div>
<div class="c" style="left:266px;top:368px;width:64px;height:20px;line-height:20px;">0.3</div>
<div class="c" style="left:330px;top:368px;width:68px;height:20px;line-height:20px;">-1.1</div>
<div class="c" style="left:398px;top:368px;width:64px;height:20px;line-height:20px;">0.6</div>
<div class="c" style="left:462px;top:368px;width:64px;height:20px;line-height:20px;">0.0</div>
<div class="c" style="left:526px;top:368px;width:64px;height:20px;line-height:20px;">1.5</div>
<div class="c" style="left:590px;top:368px;width:64px;height:20px;line-height:20px;">0.1</div>
<div class="c" style="left:654px;top:368px;width:64px;height:20px;line-height:20px;">-4.1</div>
<div class="c" style="left:718px;top:368px;width:64px;height:20px;line-height:20px;">-3.3</div>
<div class="c" style="left:782px;top:368px;width:66px;height:20px;line-height:20px;">7.4</div>
<div class="c" style="left:848px;top:368px;width:61px;height:20px;line-height:20px;">5.6</div>
<div class="d" style="left:0px;top:388px;width:71px;height:20px;line-height:20px;">15-Nov</div>
<div class="c" style="left:74px;top:388px;width:64px;height:20px;line-height:20px;">-3.2</div>
<div class="c" style="left:138px;top:388px;width:64px;height:20px;line-height:20px;">3.2</div>
<div class="c" style="left:202px;top:388px;width:64px;height:20px;line-height:20px;">5.4</div>
<div class="c" style="left:266px;top:388px;width:64px;height:20px;line-height:20px;">0.8</div>
<div class="c" style="left:330px;top:388px;width:68px;height:20px;line-height:20px;">-2.6</div>
<div class="c" style="left:398px;top:388px;width:64px;height:20px;line-height:20px;">1.4</div>
<div class="c" style="left:462px;top:388px;width:64px;height:20px;line-height:20px;">-0.3</div>
<div class="c" style="left:526px;top:388px;width:64px;height:20px;line-height:20px;">1.0</div>
<div class="c" style="left:590px;top:388px;width:64px;height:20px;line-height:20px;">0.6</div>
<div class="c" style="left:654px;top:388px;width:64px;height:20px;line-height:20px;">-2.7</div>
<div class="c" style="left:718px;top:388px;width:64px;height:20px;line-height:20px;">-3.5</div>
<div class="c" style="left:782px;top:388px;width:66px;height:20px;line-height:20px;">7.8</div>
<div class="c" style="left:848px;top:388px;width:61px;height:20px;line-height:20px;">6.2</div>
<div class="d" style="left:0px;top:408px;width:71px;height:20px;line-height:20px;">12-Nov</div>
<div class="c" style="left:74px;top:408px;width:64px;height:20px;line-height:20px;">-2.0</div>
<div class="c" style="left:138px;top:408px;width:64px;height:20px;line-height:20px;">2.9</div>
<div class="c" style="left:202px;top:408px;width:64px;height:20px;line-height:20px;">5.1</div>
<div class="c" style="left:266px;top:408px;width:64px;height:20px;line-height:20px;">0.8</div>
<div class="c" style="left:330px;top:408px;width:68px;height:20px;line-height:20px;">-3.3</div>
<div class="c" style="left:398px;top:408px;width:64px;height:20px;line-height:20px;">2.1</div>
<div class="c" style="left:462px;top:408px;width:64px;height:20px;line-height:20px;">-1.3</div>
<div class="c" style="left:526px;top:408px;width:64px;height:20px;line-height:20px;">0.2</div>
<div class="c" style="left:590px;top:408px;width:64px;height:20px;line-height:20px;">0.2</div>
<div class="c" style="left:654px;top:408px;width:64px;height:20px;line-height:20px;">-1.5</div>
<div class="c" style="left:718px;top:408px;width:64px;height:20px;line-height:20px;">-3.2</div>
<div class="c" style="left:782px;top:408px;width:66px;height:20px;line-height:20px;">7.8</div>
<div class="c" style="left:848px;top:408px;width:61px;height:20px;line-height:20px;">6.6</div>
<div class="d" style="left:0px;top:428px;width:71px;height:20px;line-height:20px;">11-Nov</div>
<div class="c" style="left:74px;top:428px;width:64px;height:20px;line-height:20px;">-1.7</div>
<div class="c" style="left:138px;top:428px;width:64px;height:20px;line-height:20px;">2.6</div>
<div class="c" style="left:202px;top:428px;width:64px;height:20px;line-height:20px;">4.2</div>
<div class="c" style="left:266px;top:428px;width:64px;height:20px;line-height:20px;">0.6</div>
<div class="c" style="left:330px;top:428px;width:68px;height:20px;line-height:20px;">-3.9</div>
<div class="c" style="left:398px;top:428px;width:64px;height:20px;line-height:20px;">2.6</div>
<div class="c" style="left:462px;top:428px;width:64px;height:20px;line-height:20px;">-2.0</div>
<div class="c" style="left:526px;top:428px;width:64px;height:20px;line-height:20px;">0.3</div>
<div class="c" style="left:590px;top:428px;width:64px;height:20px;line-height:20px;">0.3</div>
<div class="c" style="left:654px;top:428px;width:64px;height:20px;line-height:20px;">-0.2</div>
<div class="c" style="left:718px;top:428px;width:64px;height:20px;line-height:20px;">-2.7</div>
<div class="c" style="left:782px;top:428px;width:66px;height:20px;line-height:20px;">7.3</div>
<div class="c" style="left:848px;top:428px;width:61px;height:20px;line-height:20px;">5.8</div>
<div class="d" style="left:0px;top:448px;width:71px;height:20px;line-height:20px;">10-Nov</div>
<div class="c" style="left:74px;top:448px;width:64px;height:20px;line-height:20px;">-1.6</div>
<div class="c" style="left:138px;top:448px;width:64px;height:20px;line-height:20px;">1.3</div>
<div class="c" style="left:202px;top:448px;width:64px;height:20px;line-height:20px;">2.8</div>
<div class="c" style="left:266px;top:448px;width:64px;height:20px;line-height:20px;">0.4</div>
<div class="c" style="left:330px;top:448px;width:68px;height:20px;line-height:20px;">-3.9</div>
<div class="c" style="left:398px;top:448px;width:64px;height:20px;line-height:20px;">2.8</div>
<div class="c" style="left:462px;top:448px;width:64px;height:20px;line-height:20px;">-1.8</div>
<div class="c" style="left:526px;top:448px;width:64px;height:20px;line-height:20px;">0.8</div>
<div class="c" style="left:590px;top:448px;width:64px;height:20px;line-height:20px;">1.1</div>
<div class="c" style="left:654px;top:448px;width:64px;height:20px;line-height:20px;">0.3</div>
<div class="c" style="left:718px;top:448px;width:64px;height:20px;line-height:20px;">-2.2</div>
<div class="c" style="left:782px;top:448px;width:66px;height:20px;line-height:20px;">5.7</div>
<div class="c" style="left:848px;top:448px;width:61px;height:20px;line-height:20px;">3.9</div>
<div class="d" style="left:0px;top:468px;width:71px;height:20px;line-height:20px;">9-Nov</div>
<div class="c" style="left:74px;top:468px;width:64px;height:20px;line-height:20px;">-1.4</div>
<div class="c" style="left:138px;top:468px;width:64px;height:20px;line-height:20px;">-0.1</div>
<div class="c" style="left:202px;top:468px;width:64px;height:20px;line-height:20px;">1.5</div>
<div class="c" style="left:266px;top:468px;width:64px;height:20px;line-height:20px;">0.2</div>
<div class="c" style="left:330px;top:468px;width:68px;height:20px;line-height:20px;">-3.7</div>
<div class="c" style="left:398px;top:468px;width:64px;height:20px;line-height:20px;">2.7</div>
<div class="c" style="left:462px;top:468px;width:64px;height:20px;line-height:20px;">-1.5</div>
<div class="c" style="left:526px;top:468px;width:64px;height:20px;line-height:20px;">0.0</div>
<div class="c" style="left:590px;top:468px;width:64px;height:20px;line-height:20px;">1.7</div>
<div class="c" style="left:654px;top:468px;width:64px;height:20px;line-height:20px;">1.8</div>
<div class="c" style="left:718px;top:468px;width:64px;height:20px;line-height:20px;">-1.2</div>
<div class="c" style="left:782px;top:468px;width:66px;height:20px;line-height:20px;">4.0</div>
<div class="c" style="left:848px;top:468px;width:61px;height:20px;line-height:20px;">2.7</div>
<div class="d" style="left:0px;top:488px;width:71px;height:20px;line-height:20px;">8-Nov</div>
<div class="c" style="left:74px;top:488px;width:64px;height:20px;line-height:20px;">-1.7</div>
<div class="c" style="left:138px;top:488px;width:64px;height:20px;line-height:20px;">0.1</div>
<div class="c" style="left:202px;top:488px;width:64px;height:20px;line-height:20px;">1.7</div>
<div class="c" style="left:266px;top:488px;width:64px;height:20px;line-height:20px;">-0.6</div>
<div class="c" style="left:330px;top:488px;width:68px;height:20px;line-height:20px;">-4.2</div>
<div class="c" style="left:398px;top:488px;width:64px;height:20px;line-height:20px;">2.7</div>
<div class="c" style="left:462px;top:488px;width:64px;height:20px;line-height:20px;">-0.5</div>
<div class="c" style="left:526px;top:488px;width:64px;height:20px;line-height:20px;">0.1</div>
<div class="c" style="left:590px;top:488px;width:64px;height:20px;line-height:20px;">2.2</div>
<div class="c" style="left:654px;top:488px;width:64px;height:20px;line-height:20px;">2.0</div>
<div class="c" style="left:718px;top:488px;width:64px;height:20px;line-height:20px;">-1.6</div>
<div class="c" style="left:782px;top:488px;width:66px;height:20px;line-height:20px;">3.3</div>
<div class="c" style="left:848px;top:488px;width:61px;height:20px;line-height:20px;">2.7</div>
<div class="d" style="left:0px;top:508px;width:71px;height:20px;line-height:20px;">5-Nov</div>
<div class="c" style="left:74px;top:508px;width:64px;height:20px;line-height:20px;">-1.9</div>
<div class="c" style="left:138px;top:508px;width:64px;height:20px;line-height:20px;">0.4</div>
<div class="c" style="left:202px;top:508px;width:64px;height:20px;line-height:20px;">1.8</div>
<div class="c" style="left:266px;top:508px;width:64px;height:20px;line-height:20px;">-1.2</div>
<div class="c" style="left:330px;top:508px;width:68px;height:20px;line-height:20px;">-4.5</div>
<div class="c" style="left:398px;top:508px;width:64px;height:20px;line-height:20px;">3.5</div>
<div class="c" style="left:462px;top:508px;width:64px;height:20px;line-height:20px;">-0.4</div>
<div class="c" style="left:526px;top:508px;width:64px;height:20px;line-height:20px;">0.4</div>
<div class="c" style="left:590px;top:508px;width:64px;height:20px;line-height:20px;">1.5</div>
<div class="c" style="left:654px;top:508px;width:64px;height:20px;line-height:20px;">2.7</div>
<div class="c" style="left:718px;top:508px;width:64px;height:20px;line-height:20px;">-2.2</div>
<div class="c" style="left:782px;top:508px;width:66px;height:20px;line-height:20px;">2.3</div>
<div class="c" style="left:848px;top:508px;width:61px;height:20px;line-height:20px;">1.5</div>
<div class="d" style="left:0px;top:528px;width:71px;height:20px;line-height:20px;">4-Nov</div>
<div class="c" style="left:74px;top:528px;width:64px;height:20px;line-height:20px;">-2.1</div>
<div class="c" style="left:138px;top:528px;width:64px;height:20px;line-height:20px;">0.1</div>
<div class="c" style="left:202px;top:528px;width:64px;height:20px;line-height:20px;">1.5</div>
<div class="c" style="left:266px;top:528px;width:64px;height:20px;line-height:20px;">-2.4</div>
<div class="c" style="left:330px;top:528px;width:68px;height:20px;line-height:20px;">-3.7</div>
<div class="c" style="left:398px;top:528px;width:64px;height:20px;line-height:20px;">3.5</div>
<div class="c" style="left:462px;top:528px;width:64px;height:20px;line-height:20px;">0.1</div>
<div class="c" style="left:526px;top:528px;width:64px;height:20px;line-height:20px;">0.7</div>
<div class="c" style="left:590px;top:528px;width:64px;height:20px;line-height:20px;">1.7</div>
<div class="c" style="left:654px;top:528px;width:64px;height:20px;line-height:20px;">2.7</div>
<div class="c" style="left:718px;top:528px;width:64px;height:20px;line-height:20px;">-1.9</div>
<div class="c" style="left:782px;top:528px;width:66px;height:20px;line-height:20px;">0.4</div>
<div class="c" style="left:848px;top:528px;width:61px;height:20px;line-height:20px;">0.4</div>
<div class="d" style="left:0px;top:548px;width:71px;height:20px;line-height:20px;">3-Nov</div>
<div class="c" style="left:74px;top:548px;width:64px;height:20px;line-height:20px;">-2.2</div>
<div class="c" style="left:138px;top:548px;width:64px;height:20px;line-height:20px;">-0.7</div>
<div class="c" style="left:202px;top:548px;width:64px;height:20px;line-height:20px;">0.7</div>
<div class="c" style="left:266px;top:548px;width:64px;height:20px;line-height:20px;">-3.6</div>
<div class="c" style="left:330px;top:548px;width:68px;height:20px;line-height:20px;">-2.3</div>
<div class="c" style="left:398px;top:548px;width:64px;height:20px;line-height:20px;">3.0</div>
<div class="c" style="left:462px;top:548px;width:64px;height:20px;line-height:20px;">0.9</div>
<div class="c" style="left:526px;top:548px;width:64px;height:20px;line-height:20px;">0.8</div>
<div class="c" style="left:590px;top:548px;width:64px;height:20px;line-height:20px;">2.2</div>
<div class="c" style="left:654px;top:548px;width:64px;height:20px;line-height:20px;">3.0</div>
<div class="c" style="left:718px;top:548px;width:64px;height:20px;line-height:20px;">-1.4</div>
<div class="c" style="left:782px;top:548px;width:66px;height:20px;line-height:20px;">-0.6</div>
<div class="c" style="left:848px;top:548px;width:61px;height:20px;line-height:20px;">-0.2</div>
<div class="d" style="left:0px;top:568px;width:71px;height:20px;line-height:20px;">2-Nov</div>
<div class="c" style="left:74px;top:568px;width:64px;height:20px;line-height:20px;">-2.8</div>
<div class="c" style="left:138px;top:568px;width:64px;height:20px;line-height:20px;">-0.8</div>
<div class="c" style="left:202px;top:568px;width:64px;height:20px;line-height:20px;">0.6</div>
<div class="c" style="left:266px;top:568px;width:64px;height:20px;line-height:20px;">-3.8</div>
<div class="c" style="left:330px;top:568px;width:68px;height:20px;line-height:20px;">-3.0</div>
<div class="c" style="left:398px;top:568px;width:64px;height:20px;line-height:20px;">2.9</div>
<div class="c" style="left:462px;top:568px;width:64px;height:20px;line-height:20px;">2.0</div>
<div class="c" style="left:526px;top:568px;width:64px;height:20px;line-height:20px;">1.0</div>
<div class="c" style="left:590px;top:568px;width:64px;height:20px;line-height:20px;">2.1</div>
<div class="c" style="left:654px;top:568px;width:64px;height:20px;line-height:20px;">2.7</div>
<div class="c" style="left:718px;top:568px;width:64px;height:20px;line-height:20px;">-0.6</div>
<div class="c" style="left:782px;top:568px;width:66px;height:20px;line-height:20px;">0.6</div>
<div class="c" style="left:848px;top:568px;width:61px;height:20px;line-height:20px;">0.6</div>
<div class="d" style="left:0px;top:588px;width:71px;height:20px;line-height:20px;">1-Nov</div>
<div class="c" style="left:74px;top:588px;width:64px;height:20px;line-height:20px;">-3.6</div>
<div class="c" style="left:138px;top:588px;width:64px;height:20px;line-height:20px;">-1.7</div>
<div class="c" style="left:202px;top:588px;width:64px;height:20px;line-height:20px;">-0.1</div>
<div class="c" style="left:266px;top:588px;width:64px;height:20px;line-height:20px;">-4.9</div>
<div class="c" style="left:330px;top:588px;width:68px;height:20px;line-height:20px;">-2.8</div>
<div class="c" style="left:398px;top:588px;width:64px;height:20px;line-height:20px;">2.6</div>
<div class="c" style="left:462px;top:588px;width:64px;height:20px;line-height:20px;">3.7</div>
<div class="c" style="left:526px;top:588px;width:64px;height:20px;line-height:20px;">0.7</div>
<div class="c" style="left:590px;top:588px;width:64px;height:20px;line-height:20px;">3.1</div>
<div class="c" style="left:654px;top:588px;width:64px;height:20px;line-height:20px;">2.5</div>
<div class="c" style="left:718px;top:588px;width:64px;height:20px;line-height:20px;">0.8</div>
<div class="c" style="left:782px;top:588px;width:66px;height:20px;line-height:20px;">0.4</div>
<div class="c" style="left:848px;top:588px;width:61px;height:20px;line-height:20px;">1.6</div>
<div class="d" style="left:0px;top:608px;width:71px;height:20px;line-height:20px;">29-Oct</div>
<div class="c" style="left:74px;top:608px;width:64px;height:20px;line-height:20px;">-3.7</div>
<div class="c" style="left:138px;top:608px;width:64px;height:20px;line-height:20px;">-1.8</div>
<div class="c" style="left:202px;top:608px;width:64px;height:20px;line-height:20px;">-0.1</div>
<div class="c" style="left:266px;top:608px;width:64px;height:20px;line-height:20px;">-5.0</div>
<div class="c" style="left:330px;top:608px;width:68px;height:20px;line-height:20px;">-1.7</div>
<div class="c" style="left:398px;top:608px;width:64px;height:20px;line-height:20px;">1.5</div>
<div class="c" style="left:462px;top:608px;width:64px;height:20px;line-height:20px;">4.1</div>
<div class="c" style="left:526px;top:608px;width:64px;height:20px;line-height:20px;">0.8</div>
<div class="c" style="left:590px;top:608px;width:64px;height:20px;line-height:20px;">3.2</div>
<div class="c" style="left:654px;top:608px;width:64px;height:20px;line-height:20px;">1.7</div>
<div class="c" style="left:718px;top:608px;width:64px;height:20px;line-height:20px;">1.2</div>
<div class="c" style="left:782px;top:608px;width:66px;height:20px;line-height:20px;">0.3</div>
<div class="c" style="left:848px;top:608px;width:61px;height:20px;line-height:20px;">1.7</div>
<div class="d" style="left:0px;top:628px;width:71px;height:20px;line-height:20px;">28-Oct</div>
<div class="c" style="left:74px;top:628px;width:64px;height:20px;line-height:20px;">-3.1</div>
<div class="c" style="left:138px;top:628px;width:64px;height:20px;line-height:20px;">-2.7</div>
<div class="c" style="left:202px;top:628px;width:64px;height:20px;line-height:20px;">-0.1</div>
<div class="c" style="left:266px;top:628px;width:64px;height:20px;line-height:20px;">-5.5</div>
<div class="c" style="left:330px;top:628px;width:68px;height:20px;line-height:20px;">-1.2</div>
<div class="c" style="left:398px;top:628px;width:64px;height:20px;line-height:20px;">0.8</div>
<div class="c" style="left:462px;top:628px;width:64px;height:20px;line-height:20px;">3.9</div>
<div class="c" style="left:526px;top:628px;width:64px;height:20px;line-height:20px;">0.7</div>
<div class="c" style="left:590px;top:628px;width:64px;height:20px;line-height:20px;">3.3</div>
<div class="c" style="left:654px;top:628px;width:64px;height:20px;line-height:20px;">1.8</div>
<div class="c" style="left:718px;top:628px;width:64px;height:20px;line-height:20px;">2.3</div>
<div class="c" style="left:782px;top:628px;width:66px;height:20px;line-height:20px;">0.9</div>
<div class="c" style="left:848px;top:628px;width:61px;height:20px;line-height:20px;">2.3</div>
<div class="d" style="left:0px;top:648px;width:71px;height:20px;line-height:20px;">27-Oct</div>
<div class="c" style="left:74px;top:648px;width:64px;height:20px;line-height:20px;">-3.9</div>
<div class="c" style="left:138px;top:648px;width:64px;height:20px;line-height:20px;">-2.1</div>
<div class="c" style="left:202px;top:648px;width:64px;height:20px;line-height:20px;">0.9</div>
<div class="c" style="left:266px;top:648px;width:64px;height:20px;line-height:20px;">-5.8</div>
<div class="c" style="left:330px;top:648px;width:68px;height:20px;line-height:20px;">-0.9</div>
<div class="c" style="left:398px;top:648px;width:64px;height:20px;line-height:20px;">0.2</div>
<div class="c" style="left:462px;top:648px;width:64px;height:20px;line-height:20px;">4.0</div>
<div class="c" style="left:526px;top:648px;width:64px;height:20px;line-height:20px;">1.2</div>
<div class="c" style="left:590px;top:648px;width:64px;height:20px;line-height:20px;">3.4</div>
<div class="c" style="left:654px;top:648px;width:64px;height:20px;line-height:20px;">0.9</div>
<div class="c" style="left:718px;top:648px;width:64px;height:20px;line-height:20px;">2.2</div>
<div class="c" style="left:782px;top:648px;width:66px;height:20px;line-height:20px;">1.2</div>
<div class="c" style="left:848px;top:648px;width:61px;height:20px;line-height:20px;">2.9</div>
<div class="d" style="left:0px;top:668px;width:71px;height:20px;line-height:20px;">26-Oct</div>
<div class="c" style="left:74px;top:668px;width:64px;height:20px;line-height:20px;">-4.0</div>
<div class="c" style="left:138px;top:668px;width:64px;height:20px;line-height:20px;">-2.3</div>
<div class="c" style="left:202px;top:668px;width:64px;height:20px;line-height:20px;">1.5</div>
<div class="c" style="left:266px;top:668px;width:64px;height:20px;line-height:20px;">-6.6</div>
<div class="c" style="left:330px;top:668px;width:68px;height:20px;line-height:20px;">-0.5</div>
<div class="c" style="left:398px;top:668px;width:64px;height:20px;line-height:20px;">-0.2</div>
<div class="c" style="left:462px;top:668px;width:64px;height:20px;line-height:20px;">3.6</div>
<div class="c" style="left:526px;top:668px;width:64px;height:20px;line-height:20px;">1.0</div>
<div class="c" style="left:590px;top:668px;width:64px;height:20px;line-height:20px;">3.6</div>
<div class="c" style="left:654px;top:668px;width:64px;height:20px;line-height:20px;">0.5</div>
<div class="c" style="left:718px;top:668px;width:64px;height:20px;line-height:20px;">3.7</div>
<div class="c" style="left:782px;top:668px;width:66px;height:20px;line-height:20px;">1.3</div>
<div class="c" style="left:848px;top:668px;width:61px;height:20px;line-height:20px;">3.8</div>
<div class="d" style="left:0px;top:688px;width:71px;height:20px;line-height:20px;">25-Oct</div>
<div class="c" style="left:74px;top:688px;width:64px;height:20px;line-height:20px;">-3.9</div>
<div class="c" style="left:138px;top:688px;width:64px;height:20px;line-height:20px;">-2.6</div>
<div class="c" style="left:202px;top:688px;width:64px;height:20px;line-height:20px;">1.0</div>
<div class="c" style="left:266px;top:688px;width:64px;height:20px;line-height:20px;">-6.6</div>
<div class="c" style="left:330px;top:688px;width:68px;height:20px;line-height:20px;">-0.7</div>
<div class="c" style="left:398px;top:688px;width:64px;height:20px;line-height:20px;">0.0</div>
<div class="c" style="left:462px;top:688px;width:64px;height:20px;line-height:20px;">3.2</div>
<div class="c" style="left:526px;top:688px;width:64px;height:20px;line-height:20px;">1.2</div>
<div class="c" style="left:590px;top:688px;width:64px;height:20px;line-height:20px;">3.7</div>
<div class="c" style="left:654px;top:688px;width:64px;height:20px;line-height:20px;">0.9</div>
<div class="c" style="left:718px;top:688px;width:64px;height:20px;line-height:20px;">4.1</div>
<div class="c" style="left:782px;top:688px;width:66px;height:20px;line-height:20px;">1.6</div>
<div class="c" style="left:848px;top:688px;width:61px;height:20px;line-height:20px;">4.7</div>
<div class="d" style="left:0px;top:708px;width:71px;height:20px;line-height:20px;">22-Oct</div>
<div class="c" style="left:74px;top:708px;width:64px;height:20px;line-height:20px;">-3.7</div>
<div class="c" style="left:138px;top:708px;width:64px;height:20px;line-height:20px;">-2.9</div>
<div class="c" style="left:202px;top:708px;width:64px;height:20px;line-height:20px;">0.8</div>
<div class="c" style="left:266px;top:708px;width:64px;height:20px;line-height:20px;">-7.5</div>
<div class="c" style="left:330px;top:708px;width:68px;height:20px;line-height:20px;">-0.6</div>
<div class="c" style="left:398px;top:708px;width:64px;height:20px;line-height:20px;">0.3</div>
<div class="c" style="left:462px;top:708px;width:64px;height:20px;line-height:20px;">2.9</div>
<div class="c" style="left:526px;top:708px;width:64px;height:20px;line-height:20px;">1.7</div>
<div class="c" style="left:590px;top:708px;width:64px;height:20px;line-height:20px;">3.8</div>
<div class="c" style="left:654px;top:708px;width:64px;height:20px;line-height:20px;">1.2</div>
<div class="c" style="left:718px;top:708px;width:64px;height:20px;line-height:20px;">4.3</div>
<div class="c" style="left:782px;top:708px;width:66px;height:20px;line-height:20px;">0.5</div>
<div class="c" style="left:848px;top:708px;width:61px;height:20px;line-height:20px;">4.1</div>
<div class="d" style="left:0px;top:728px;width:71px;height:20px;line-height:20px;">21-Oct</div>
<div class="c" style="left:74px;top:728px;width:64px;height:20px;line-height:20px;">-3.9</div>
<div class="c" style="left:138px;top:728px;width:64px;height:20px;line-height:20px;">-2.8</div>
<div class="c" style="left:202px;top:728px;width:64px;height:20px;line-height:20px;">0.6</div>
<div class="c" style="left:266px;top:728px;width:64px;height:20px;line-height:20px;">-9.1</div>
<div class="c" style="left:330px;top:728px;width:68px;height:20px;line-height:20px;">0.2</div>
<div class="c" style="left:398px;top:728px;width:64px;height:20px;line-height:20px;">-0.3</div>
<div class="c" style="left:462px;top:728px;width:64px;height:20px;line-height:20px;">3.5</div>
<div class="c" style="left:526px;top:728px;width:64px;height:20px;line-height:20px;">2.2</div>
<div class="c" style="left:590px;top:728px;width:64px;height:20px;line-height:20px;">4.4</div>
<div class="c" style="left:654px;top:728px;width:64px;height:20px;line-height:20px;">0.7</div>
<div class="c" style="left:718px;top:728px;width:64px;height:20px;line-height:20px;">4.8</div>
<div class="c" style="left:782px;top:728px;width:66px;height:20px;line-height:20px;">-0.2</div>
<div class="c" style="left:848px;top:728px;width:61px;height:20px;line-height:20px;">3.6</div>
<div class="k" style="left:72px;top:102px;width:837px;height:2px"></div>
<div class="k" style="left:72px;top:126px;width:837px;height:2px"></div>
<div class="k" style="left:72px;top:102px;width:2px;height:27px"></div>
<div class="k" style="left:907px;top:102px;width:2px;height:26px"></div>
<div class="k" style="left:1px;top:126px;width:71px;height:1px"></div>
<div class="k" style="left:1px;top:128px;width:71px;height:1px"></div>
<div style="left:0;top:127px;width:72px;height:1px;background:#fff"></div>
<div class="k" style="left:781px;top:79px;width:1px;height:89px"></div>
<div class="k" style="left:0px;top:246px;width:909px;height:2px"></div>
<div class="k" style="left:73px;top:227px;width:1px;height:521px"></div>
<div class="k" style="left:781px;top:227px;width:1px;height:521px"></div>
<div style="left:840px;top:9px;width:60px;height:48px;background:#fff;border:1px solid #0A1B38;border-top-color:#6F7A8C"></div>
<div style="left:840px;top:37px;width:60px;height:20px;background:#071937"></div>
<div class="b" style="left:840px;top:11px;width:60px;height:26px;line-height:26px;text-align:center;font-size:19px;letter-spacing:0.8px;padding-left:1px;color:#071937;-webkit-text-stroke:0.2px #071937;">SAXO</div>
<div class="b" style="left:840px;top:38px;width:60px;height:19px;line-height:19px;text-align:center;font-size:11.5px;letter-spacing:5.4px;padding-left:5px;color:#fff;-webkit-text-stroke:0.2px #fff;">BANK</div>
</div></body></html>
